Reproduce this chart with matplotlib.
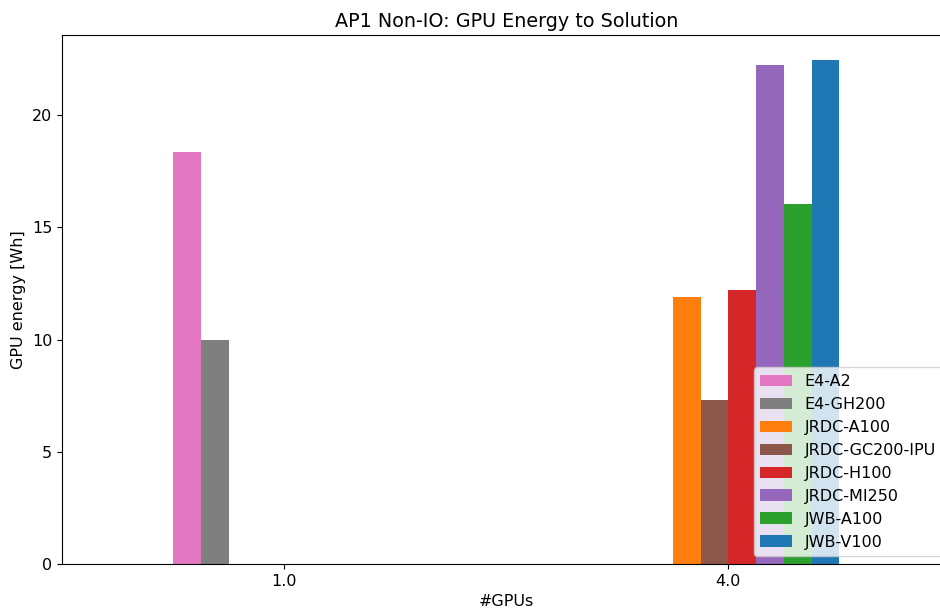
import matplotlib
matplotlib.use("Agg")
import matplotlib.pyplot as plt
import numpy as np

plt.rcParams["font.size"] = 11.5

gpus = ["1.0", "4.0"]
systems = ["E4-A2", "E4-GH200", "JRDC-A100", "JRDC-GC200-IPU",
           "JRDC-H100", "JRDC-MI250", "JWB-A100", "JWB-V100"]
colors = ["#e377c2", "#7f7f7f", "#ff7f0e", "#8c564b",
          "#d62728", "#9467bd", "#2ca02c", "#1f77b4"]

# energy in Wh per system, NaN where no run exists
e4_a2 = [18.35, np.nan]
e4_gh200 = [9.96, np.nan]
jrdc_a100 = [np.nan, 11.92]
jrdc_gc200 = [np.nan, 7.29]
jrdc_h100 = [np.nan, 12.2]
jrdc_mi250 = [np.nan, 22.25]
jwb_a100 = [np.nan, 16.04]
jwb_v100 = [np.nan, 22.45]
energy = [e4_a2, e4_gh200, jrdc_a100, jrdc_gc200,
          jrdc_h100, jrdc_mi250, jwb_a100, jwb_v100]

fig = plt.figure(figsize=(9.4, 6.12), dpi=100)
ax = fig.add_axes([0.066, 0.0784, 0.945, 0.8644])

x = np.arange(len(gpus))
n = len(systems)
w = 0.5 / n
for i, (name, vals, c) in enumerate(zip(systems, energy, colors)):
    ax.bar(x - 0.25 + w * (i + 0.5), vals, w, color=c, label=name)

ax.set_xlim(-0.5, 1.5)
ax.set_xticks(x)
ax.set_xticklabels(gpus)
ax.set_yticks([0, 5, 10, 15, 20])
ax.set_xlabel("#GPUs")
ax.set_ylabel("GPU energy [Wh]")
ax.set_title("AP1 Non-IO: GPU Energy to Solution")
ax.legend(loc="lower right")

fig.savefig("out.png", dpi=100)
